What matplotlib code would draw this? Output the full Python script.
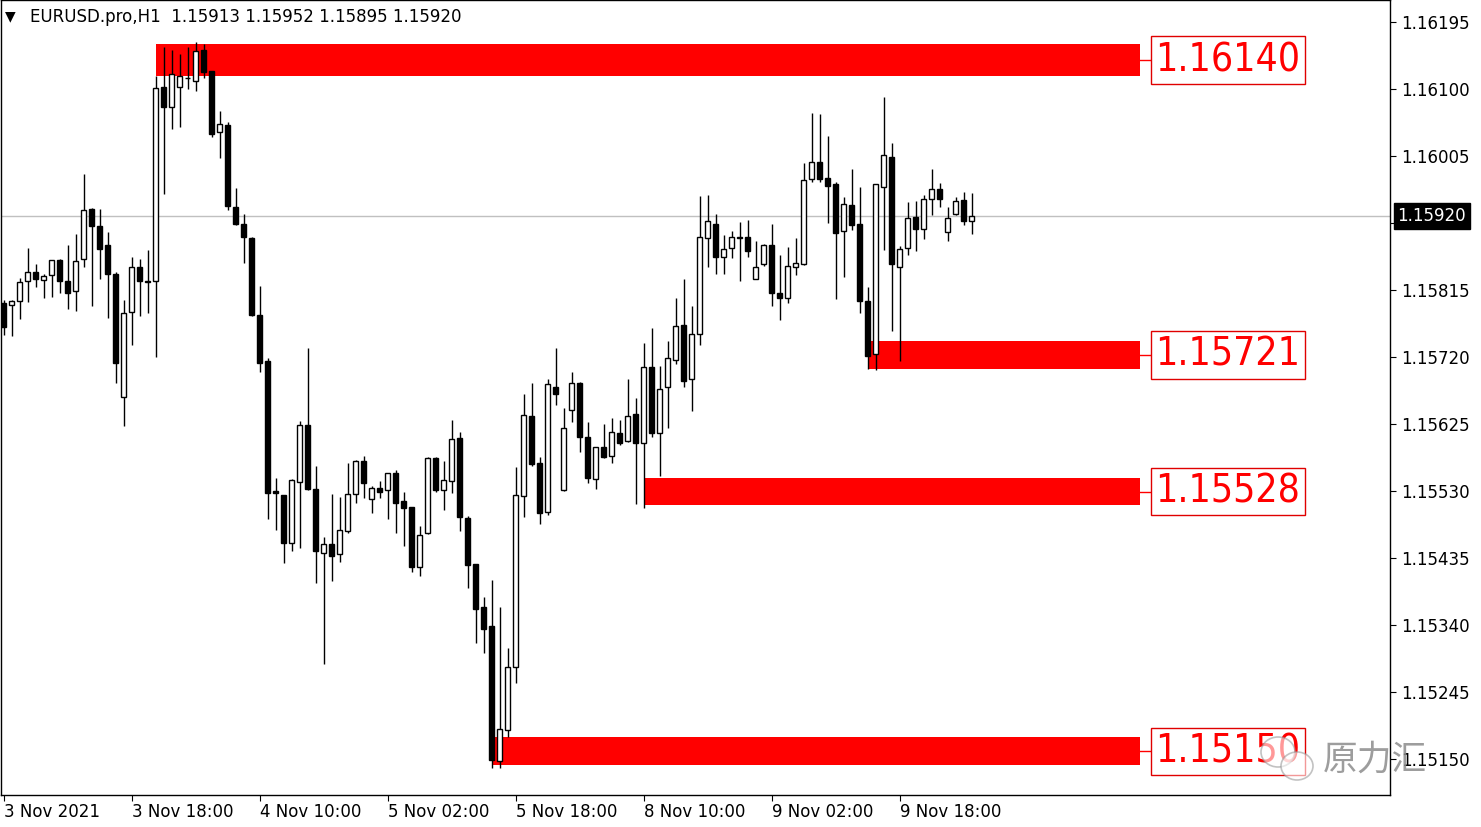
import matplotlib
matplotlib.use("Agg")
import matplotlib.pyplot as plt
import matplotlib.transforms as mtransforms
from matplotlib.patches import Rectangle, Ellipse

plt.rcParams['font.family'] = ['DejaVu Sans', 'Noto Sans CJK SC']

symbol = "EURUSD.pro,H1"

# hourly candles, 3 Nov 02:00 .. 9 Nov 23:00
opens = [1.15797, 1.15794, 1.15799, 1.15828, 1.15840, 1.15829, 1.15836, 1.15857, 1.15828, 1.15814,
         1.15859, 1.15930, 1.15906, 1.15879, 1.15838, 1.15663, 1.15784, 1.15848, 1.15828, 1.15828,
         1.16103, 1.16074, 1.16103, 1.16116, 1.16111, 1.16155, 1.16125, 1.16039, 1.16049, 1.15933,
         1.15909, 1.15889, 1.15779, 1.15714, 1.15530, 1.15524, 1.15456, 1.15543, 1.15623, 1.15533,
         1.15442, 1.15455, 1.15441, 1.15473, 1.15526, 1.15572, 1.15519, 1.15534, 1.15531, 1.15555,
         1.15516, 1.15507, 1.15422, 1.15470, 1.15577, 1.15531, 1.15544, 1.15605, 1.15492, 1.15426,
         1.15365, 1.15338, 1.15147, 1.15191, 1.15280, 1.15523, 1.15636, 1.15570, 1.15500, 1.15677,
         1.15531, 1.15645, 1.15683, 1.15606, 1.15547, 1.15592, 1.15580, 1.15612, 1.15601, 1.15639,
         1.15598, 1.15706, 1.15612, 1.15677, 1.15716, 1.15765, 1.15689, 1.15753, 1.15889, 1.15909,
         1.15862, 1.15874, 1.15890, 1.15890, 1.15831, 1.15852, 1.15879, 1.15811, 1.15804, 1.15848,
         1.15852, 1.15972, 1.15996, 1.15974, 1.15965, 1.15899, 1.15935, 1.15909, 1.15799, 1.15724,
         1.15961, 1.16004, 1.15848, 1.15874, 1.15918, 1.15901, 1.15944, 1.15958, 1.15897, 1.15923,
         1.15943, 1.15913]
highs = [1.15801, 1.15801, 1.15832, 1.15874, 1.15852, 1.15838, 1.15858, 1.15859, 1.15879, 1.15894,
         1.15979, 1.15931, 1.15930, 1.15897, 1.15840, 1.15801, 1.15862, 1.15859, 1.15872, 1.16118,
         1.16160, 1.16155, 1.16150, 1.16160, 1.16167, 1.16164, 1.16126, 1.16069, 1.16053, 1.15960,
         1.15923, 1.15890, 1.15821, 1.15719, 1.15548, 1.15525, 1.15547, 1.15629, 1.15733, 1.15565,
         1.15465, 1.15526, 1.15521, 1.15570, 1.15574, 1.15580, 1.15537, 1.15544, 1.15556, 1.15560,
         1.15528, 1.15508, 1.15480, 1.15578, 1.15578, 1.15572, 1.15631, 1.15614, 1.15494, 1.15427,
         1.15380, 1.15404, 1.15365, 1.15307, 1.15564, 1.15667, 1.15683, 1.15578, 1.15689, 1.15733,
         1.15648, 1.15699, 1.15684, 1.15628, 1.15593, 1.15625, 1.15633, 1.15631, 1.15689, 1.15662,
         1.15740, 1.15761, 1.15707, 1.15743, 1.15804, 1.15831, 1.15792, 1.15948, 1.15950, 1.15923,
         1.15893, 1.15899, 1.15911, 1.15914, 1.15884, 1.15880, 1.15909, 1.15865, 1.15876, 1.15889,
         1.15995, 1.16066, 1.16064, 1.16033, 1.15968, 1.15947, 1.15987, 1.15961, 1.15819, 1.15966,
         1.16089, 1.16023, 1.15877, 1.15940, 1.15941, 1.15950, 1.15987, 1.15967, 1.15933, 1.15947,
         1.15954, 1.15952]
lows = [1.15751, 1.15750, 1.15774, 1.15798, 1.15819, 1.15804, 1.15805, 1.15811, 1.15788, 1.15785,
        1.15848, 1.15792, 1.15831, 1.15775, 1.15683, 1.15622, 1.15737, 1.15778, 1.15782, 1.15720,
        1.15951, 1.16043, 1.16046, 1.16100, 1.16097, 1.16116, 1.16032, 1.16002, 1.15928, 1.15907,
        1.15853, 1.15778, 1.15699, 1.15490, 1.15475, 1.15428, 1.15445, 1.15449, 1.15532, 1.15399,
        1.15285, 1.15402, 1.15429, 1.15470, 1.15513, 1.15520, 1.15499, 1.15520, 1.15490, 1.15470,
        1.15452, 1.15415, 1.15409, 1.15469, 1.15529, 1.15503, 1.15527, 1.15473, 1.15392, 1.15314,
        1.15300, 1.15137, 1.15137, 1.15181, 1.15258, 1.15493, 1.15565, 1.15483, 1.15496, 1.15652,
        1.15530, 1.15628, 1.15585, 1.15541, 1.15533, 1.15577, 1.15570, 1.15595, 1.15600, 1.15511,
        1.15506, 1.15606, 1.15551, 1.15619, 1.15710, 1.15677, 1.15643, 1.15737, 1.15848, 1.15838,
        1.15838, 1.15860, 1.15828, 1.15862, 1.15830, 1.15849, 1.15792, 1.15772, 1.15797, 1.15836,
        1.15851, 1.15968, 1.15968, 1.15910, 1.15802, 1.15833, 1.15900, 1.15782, 1.15703, 1.15701,
        1.15872, 1.15757, 1.15714, 1.15865, 1.15870, 1.15887, 1.15921, 1.15933, 1.15884, 1.15922,
        1.15907, 1.15895]
closes = [1.15762, 1.15799, 1.15826, 1.15840, 1.15831, 1.15835, 1.15857, 1.15828, 1.15811, 1.15856,
          1.15928, 1.15906, 1.15873, 1.15838, 1.15711, 1.15782, 1.15848, 1.15828, 1.15827, 1.16101,
          1.16074, 1.16121, 1.16118, 1.16115, 1.16154, 1.16124, 1.16036, 1.16050, 1.15934, 1.15909,
          1.15890, 1.15779, 1.15711, 1.15527, 1.15527, 1.15456, 1.15546, 1.15623, 1.15533, 1.15445,
          1.15455, 1.15438, 1.15475, 1.15526, 1.15572, 1.15541, 1.15534, 1.15528, 1.15555, 1.15513,
          1.15506, 1.15422, 1.15468, 1.15577, 1.15531, 1.15546, 1.15604, 1.15493, 1.15425, 1.15363,
          1.15334, 1.15148, 1.15192, 1.15280, 1.15524, 1.15638, 1.15568, 1.15499, 1.15682, 1.15667,
          1.15619, 1.15683, 1.15606, 1.15548, 1.15592, 1.15578, 1.15614, 1.15598, 1.15636, 1.15598,
          1.15706, 1.15612, 1.15675, 1.15719, 1.15764, 1.15686, 1.15753, 1.15890, 1.15913, 1.15862,
          1.15873, 1.15890, 1.15889, 1.15870, 1.15848, 1.15879, 1.15811, 1.15804, 1.15849, 1.15853,
          1.15971, 1.15996, 1.15972, 1.15962, 1.15896, 1.15937, 1.15907, 1.15799, 1.15721, 1.15965,
          1.16006, 1.15852, 1.15873, 1.15917, 1.15901, 1.15944, 1.15958, 1.15944, 1.15917, 1.15941,
          1.15913, 1.15920]

time_ticks = [0, 16, 32, 48, 64, 80, 96, 112]
time_labels = ["3 Nov 2021", "3 Nov 18:00", "4 Nov 10:00", "5 Nov 02:00",
               "5 Nov 18:00", "8 Nov 10:00", "9 Nov 02:00", "9 Nov 18:00"]
price_ticks = [1.16195, 1.16100, 1.16005, 1.15910, 1.15815, 1.15720,
               1.15625, 1.15530, 1.15435, 1.15340, 1.15245, 1.15150]

# supply / demand zones (start bar, end bar, top, bottom, label)
zone_start = [19, 108, 80, 61]
zone_end = 142
zone_top = [1.16164, 1.15743, 1.15548, 1.15181]
zone_bottom = [1.16118, 1.15703, 1.15510, 1.15141]
zone_labels = ["1.16140", "1.15721", "1.15528", "1.15150"]

fig = plt.figure(figsize=(14.81, 8.27), dpi=100)
ax = fig.add_axes([0.0005, 32 / 827, 1389 / 1481, 795 / 827])
ax.set_xlim(-0.375, 173.25)
ax.set_ylim(1.15099, 1.162262)

for s, t, b in zip(zone_start, zone_top, zone_bottom):
    ax.add_patch(Rectangle((s, b), zone_end - s, t - b, facecolor='#ff0000',
                           edgecolor='none', zorder=1))

ax.axhline(closes[-1], color='#c0c0c0', lw=1, zorder=2)

for i, (o, h, l, c) in enumerate(zip(opens, highs, lows, closes)):
    ax.vlines(i, l, h, color='black', lw=1, zorder=3)
    bottom = min(o, c)
    height = max(abs(c - o), 1e-7)
    ax.add_patch(Rectangle((i - 0.3, bottom), 0.6, height,
                           facecolor='white' if c >= o else 'black',
                           edgecolor='black', lw=1, zorder=4))

# zone price labels
for t, b, lab in zip(zone_top, zone_bottom, zone_labels):
    mid = (t + b) / 2
    ax.plot([zone_end, 143.5], [mid, mid], color='#ff0000', lw=1, zorder=5, clip_on=False)
    ax.text(143.95, mid, lab, color='#ff0000', fontsize=28, ha='left', va='center',
            fontstretch='condensed', zorder=6,
            bbox=dict(boxstyle='square,pad=0.12', facecolor='white', edgecolor='#e00000', lw=1))

# axes styling
for sp in ax.spines.values():
    sp.set_color('black')
    sp.set_linewidth(1)
ax.yaxis.tick_right()
ax.set_yticks(price_ticks)
ax.set_yticklabels([f"{p:.5f}" for p in price_ticks])
ax.tick_params(axis='y', length=4, pad=4, labelsize=12, colors='black')
ax.set_xticks(time_ticks)
ax.set_xticklabels(time_labels)
for lbl in ax.get_xticklabels():
    lbl.set_horizontalalignment('left')
ax.tick_params(axis='x', length=4, pad=2, labelsize=12, colors='black')

# current price box on the price scale
trans = mtransforms.blended_transform_factory(ax.transAxes, ax.transData)
ax.text(1.0055, closes[-1], f"{closes[-1]:.5f}", transform=trans, color='white',
        fontsize=12, ha='left', va='center', zorder=10, clip_on=False,
        bbox=dict(boxstyle='square,pad=0.22', facecolor='black', edgecolor='black'))

# header line
fig.text(5 / 1481, 1 - 16 / 827, "\u25bc", fontsize=10, va='center', ha='left')
fig.text(30 / 1481, 1 - 17 / 827,
         f"{symbol}  {opens[-1]:.5f} {highs[-1]:.5f} {lows[-1]:.5f} {closes[-1]:.5f}",
         fontsize=12, va='center', ha='left')

# watermark
fig.patches.append(Ellipse((1278 / 1481, 1 - 752 / 827), 34 / 1481, 30 / 827,
                           transform=fig.transFigure, facecolor='white', alpha=0.6,
                           edgecolor='#9a9a9a', lw=1.2, zorder=20))
fig.patches.append(Ellipse((1297 / 1481, 1 - 766 / 827), 32 / 1481, 28 / 827,
                           transform=fig.transFigure, facecolor='white', alpha=0.6,
                           edgecolor='#9a9a9a', lw=1.2, zorder=21))
fig.text(1323 / 1481, 1 - 760 / 827, "原力汇", fontsize=25, color='#8c8c8c', alpha=0.85,
         family=['Noto Sans CJK SC', 'DejaVu Sans'], va='center', ha='left', zorder=22)

fig.savefig("out.png", dpi=100, facecolor='white')
